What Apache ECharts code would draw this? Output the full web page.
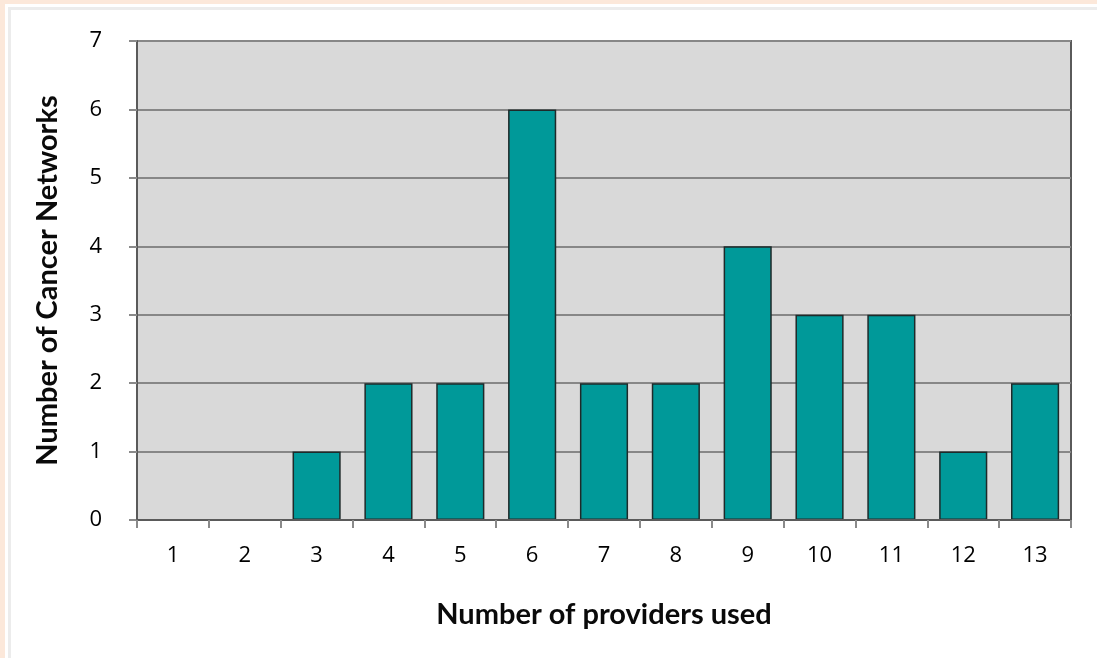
<!DOCTYPE html>
<html>
<head>
<meta charset="utf-8">
<script src="https://cdn.jsdelivr.net/npm/echarts@6/dist/echarts.min.js"></script>
<style>
html,body{margin:0;padding:0;width:1097px;height:658px;background:#fce8da;overflow:hidden;}
#frame{position:absolute;left:5px;top:4px;width:1092px;height:654px;background:#fff;}
#line{position:absolute;left:8px;top:7px;width:1097px;height:658px;border-left:3px solid #ececec;border-top:3px solid #ececec;box-sizing:border-box;}
#chart{position:absolute;left:0;top:0;width:1097px;height:658px;}
</style>
</head>
<body>
<div id="frame"></div>
<div id="line"></div>
<div id="chart"></div>
<script>
const categories = ['1','2','3','4','5','6','7','8','9','10','11','12','13'];
const networkCounts = [0,0,1,2,2,6,2,2,4,3,3,1,2];
const xAxisTitle = 'Number of providers used';
const yAxisTitle = 'Number of Cancer Networks';

const chart = echarts.init(document.getElementById('chart'), null, {renderer:'canvas'});
const tickFont = '"Open Sans", Lato, sans-serif';
const titleFont = 'Lato, "Open Sans", sans-serif';
chart.setOption({
  animation:false,
  backgroundColor:'transparent',
  grid:{left:137, top:41, right:26, bottom:138, show:true, backgroundColor:'#d9d9d9', borderColor:'#5a5a5a', borderWidth:2},
  xAxis:{
    type:'category', data:categories, boundaryGap:true, z:3,
    axisLine:{lineStyle:{color:'#5a5a5a', width:2}},
    axisTick:{show:true, length:8, lineStyle:{color:'#8a8a8a', width:2}},
    axisLabel:{color:'#000', fontSize:22, fontFamily:tickFont, margin:25},
    name:xAxisTitle, nameLocation:'middle', nameGap:80,
    nameTextStyle:{color:'#0a0a0a', fontSize:29, fontWeight:'bold', fontFamily:titleFont}
  },
  yAxis:{
    type:'value', min:0, max:7, interval:1,
    axisLine:{show:true, lineStyle:{color:'#5a5a5a', width:2}},
    axisTick:{show:true, length:8, lineStyle:{color:'#8a8a8a', width:2}},
    axisLabel:{color:'#000', fontSize:22, fontFamily:tickFont, margin:35},
    splitLine:{lineStyle:{color:'#878787', width:2}},
    name:yAxisTitle, nameLocation:'middle', nameGap:75, nameRotate:90,
    nameTextStyle:{color:'#0a0a0a', fontSize:29, fontWeight:'bold', fontFamily:titleFont}
  },
  series:[{
    type:'bar', data:networkCounts, barCategoryGap:'33%',
    itemStyle:{color:'#009999', borderColor:'#1e2a2a', borderWidth:1.5}
  }]
});
</script>
</body>
</html>
